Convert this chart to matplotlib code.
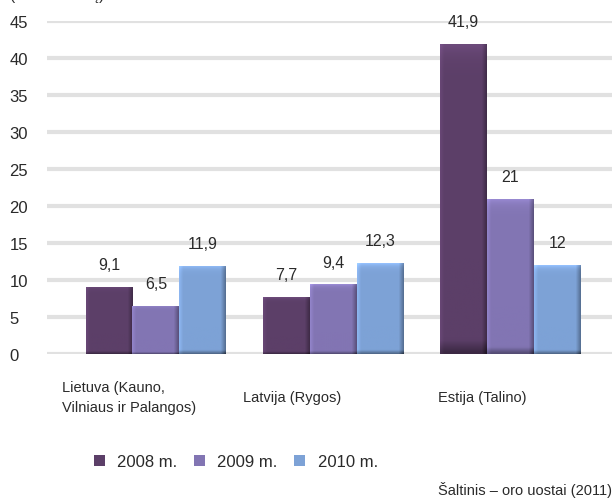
import numpy as np
import matplotlib
matplotlib.use('Agg')
import matplotlib.pyplot as plt
from matplotlib.patches import Patch

plt.rcParams['font.family'] = ['Liberation Sans', 'DejaVu Sans']
plt.rcParams['font.size'] = 11

# oro uostų keleiviai
airports = ['Lietuva (Kauno,\nVilniaus ir Palangos)', 'Latvija (Rygos)', 'Estija (Talino)']
years = ['2008 m.', '2009 m.', '2010 m.']
v2008 = [9.1, 7.7, 41.9]
v2009 = [6.5, 9.4, 21]
v2010 = [11.9, 12.3, 12]
colors = ['#5c3f68', '#8275b3', '#7da2d6']
yticks = [0, 5, 10, 15, 20, 25, 30, 35, 40, 45]
txt = '#2a2a2a'


def shade_bar(ax, bar, color):
    # gradientas, kad stulpelis atrodytų apvalesnis
    x0, w, h = bar.get_x(), bar.get_width(), bar.get_height()
    nx, ny = 40, 80
    xs = np.linspace(0, 1, nx)
    ys = np.linspace(0, 1, ny)[:, None]
    f = np.ones((ny, nx))
    f = f - 0.30 * np.clip((xs - 0.9) / 0.1, 0, 1) + 0.12 * np.clip((0.08 - xs) / 0.08, 0, 1)
    f = f + 0.18 * ys ** 30
    f = f - 0.35 * np.clip((0.04 - ys) / 0.04, 0, 1)
    rgb = np.array(matplotlib.colors.to_rgb(color))
    img = np.clip(rgb[None, None, :] * f[:, :, None], 0, 1)
    im = ax.imshow(img, extent=(x0, x0 + w, 0, h), origin='lower',
                   aspect='auto', zorder=3, interpolation='bilinear')
    im.set_clip_path(bar)


fig = plt.figure(figsize=(6.16, 5.02), dpi=100)
ax = fig.add_axes([0.076, 0.293, 0.918, 0.663])

x = np.arange(len(airports))
w = 0.265
for i, (vals, c) in enumerate(zip([v2008, v2009, v2010], colors)):
    bars = ax.bar(x + (i - 1) * w, vals, w, color=c, zorder=2, linewidth=0)
    for b, v in zip(bars, vals):
        shade_bar(ax, b, c)
        ax.annotate(f'{v:g}'.replace('.', ','), (b.get_x() + b.get_width() / 2, v),
                    xytext=(0, 16), textcoords='offset points',
                    ha='center', va='center', fontsize=11.5, color=txt)

ax.set_xlim(-0.616, 2.576)
ax.set_ylim(0, 45)
ax.set_yticks(yticks)
ax.yaxis.grid(True, color='#e1e1e1', linewidth=3)
ax.set_axisbelow(True)
for s in ax.spines.values():
    s.set_visible(False)
ax.tick_params(axis='y', length=0, pad=27, labelsize=12, labelcolor=txt)
for lab in ax.get_yticklabels():
    lab.set_horizontalalignment('left')

ax.set_xticks(x - np.array([0.15, 0.23, 0.16]))
ax.set_xticklabels(airports, ha='center', va='center', fontsize=10.5,
                   color=txt, multialignment='left', linespacing=1.6)
ax.tick_params(axis='x', length=0, pad=31)

handles = [Patch(facecolor=c, edgecolor='none') for c in colors]
fig.legend(handles, years, loc='center left', bbox_to_anchor=(0.128, 0.078),
           ncol=3, frameon=False, handlelength=0.65, handleheight=0.65,
           handletextpad=0.75, columnspacing=1.0, fontsize=12,
           labelcolor=txt)

fig.text(0.994, 0.024, 'Šaltinis – oro uostai (2011)', ha='right', va='center',
         fontsize=10.5, color=txt)
fig.text(0.016, 0.994, '(mln. keleivių)', ha='left', va='bottom',
         fontsize=11, color=txt)

fig.savefig('out.png', dpi=100)
